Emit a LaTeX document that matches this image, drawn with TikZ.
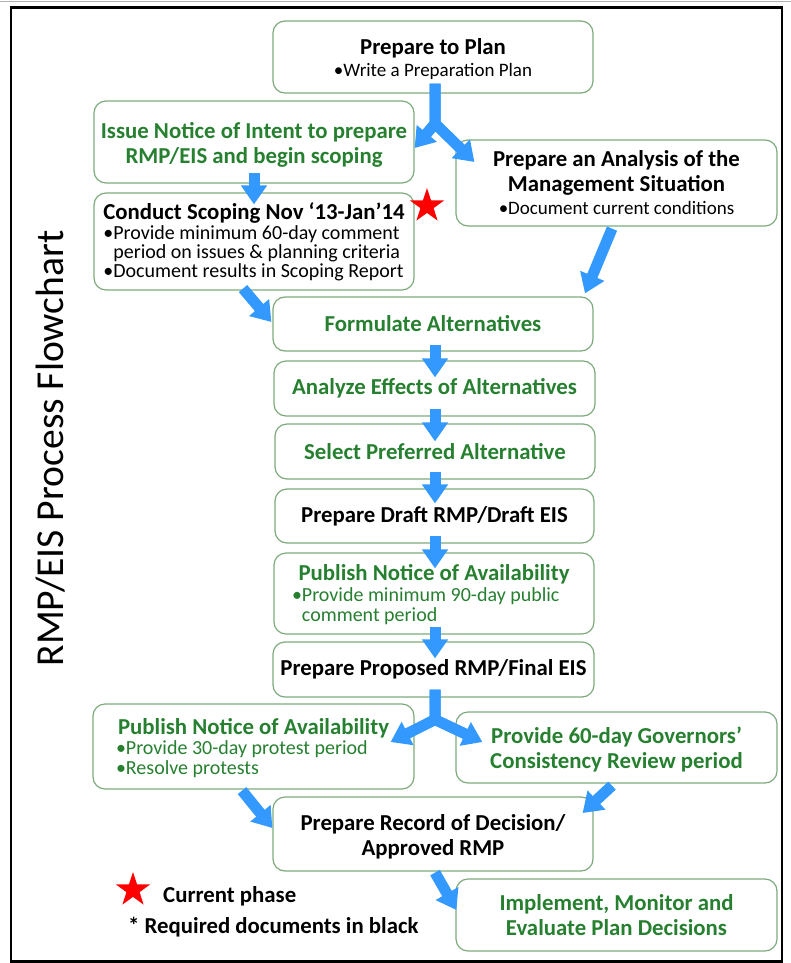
\documentclass[tikz,border=0pt]{standalone}
\usepackage{fontspec}
\setmainfont{Carlito}
\usetikzlibrary{arrows.meta,shapes.geometric,calc}
\definecolor{tgreen}{RGB}{38,128,48}
\definecolor{bgreen}{RGB}{125,170,125}
\definecolor{ablue}{RGB}{51,153,255}
\newcommand{\br}{\fontsize{20}{20}\selectfont\mdseries}
\newcommand{\brs}{\fontsize{19}{20}\selectfont\mdseries}
\newcommand{\topstrut}[1]{\rule{0pt}{#1}}
\begin{document}
\begin{tikzpicture}[x=1pt,y=-1pt,
  bt/.style={font=\fontsize{22.8}{25}\selectfont\bfseries},
  box/.style={bt, draw=bgreen, line width=1.2pt, rounded corners=12pt, inner sep=0pt, align=center, minimum width=320pt},
  gbox/.style={box, text=tgreen},
  barrow/.style={draw=ablue, line width=11pt, line join=miter, -{Triangle[width=25pt,length=19pt]}},
  redstar/.style={star, star points=5, star point ratio=2.6, fill=red, draw=none, minimum size=36pt, inner sep=0pt}
  ]
\useasboundingbox (0,0) rectangle (791,963);
% frame
\draw[gray!60, line width=0.8pt] (0,1) -- (791,1);
\draw[black, line width=2.6pt] (11,7.5) rectangle (782,961.5);
% title
\node[rotate=90, anchor=base, inner sep=0pt] (title) at (63,448.5) {\fontsize{39.6}{46}\selectfont RMP/EIS Process Flowchart};
% boxes
\node[box, minimum height=72pt] (prep) at (433,57) {\topstrut{20.5pt}Prepare to Plan\\[-3pt] \brs •Write a Preparation Plan};
\node[gbox, minimum height=82pt] (issue) at (254,142) {\topstrut{22.5pt}Issue Notice of Intent to prepare\\ RMP/EIS and begin scoping};
\node[box, minimum height=97pt, align=left] (scope) at (254,241.5) {Conduct Scoping Nov ‘13-Jan’14\\[-5pt] \br •Provide minimum 60-day comment\\[-6pt] \br \phantom{•}period on issues \& planning criteria\\[-6pt] \br •Document results in Scoping Report};
\node[box, minimum height=86pt, minimum width=321pt] (anal) at (616.5,183) {Prepare an Analysis of the\\ Management Situation\\[-2pt] \brs •Document current conditions};
\node[gbox, minimum height=54pt] (form) at (433,324) {Formulate Alternatives};
\node[gbox, minimum height=55pt, minimum width=321pt] (effe) at (434.5,388.5) {Analyze Effects of Alternatives};
\node[gbox, minimum height=55pt] (sel) at (435,451.5) {Select Preferred Alternative};
\node[box, minimum height=54pt, minimum width=319pt] (draft) at (434.5,516) {Prepare Draft RMP/Draft EIS};
\node[gbox, minimum height=81pt] (pub1) at (434,593.5) {\topstrut{19pt}Publish Notice of Availability\\[-4pt] \makebox[284pt][l]{\br •Provide minimum 90-day public}\\[-5pt] \makebox[284pt][l]{\br \phantom{•}comment period}};
\node[box, minimum height=55pt, minimum width=321pt] (prop) at (433.5,669.5) {Prepare Proposed RMP/Final EIS};
\node[gbox, minimum height=85pt, minimum width=321pt] (pub2) at (253.5,746.5) {\topstrut{20pt}Publish Notice of Availability\\[-5pt] \makebox[275pt][l]{\br •Provide 30-day protest period}\\[-5pt] \makebox[275pt][l]{\br •Resolve protests}};
\node[gbox, minimum height=71pt, minimum width=321pt] (gov) at (616.5,747.5) {\topstrut{21pt}Provide 60-day Governors’\\ Consistency Review period};
\node[box, minimum height=74pt] (rec) at (433,834) {\topstrut{21.5pt}Prepare Record of Decision/\\ Approved RMP};
\node[gbox, minimum height=72pt, minimum width=321pt] (impl) at (616.5,915) {Implement, Monitor and\\ Evaluate Plan Decisions};
% star and legend
\node[redstar] (cstar) at (427,206) {};
\node[redstar] (lstar) at (133,890) {};
\node[bt, anchor=base west, inner sep=0pt] (lcur) at (163,902) {Current phase};
\node[bt, anchor=base west, inner sep=0pt] (lreq) at (128,933) {* Required documents in black};
% arrows
\coordinate (j1) at ($(prep.south)+(2,30)$);
\draw[barrow] ($(prep.south)+(2,-10)$) -- (j1) -- ($(issue.east)+(0,6)$);
\draw[barrow] ($(prep.south)+(2,-10)$) -- (j1) -- ($(anal.west)+(19,-21)$);
\draw[barrow] ($(issue.south)+(0,-11)$) -- ($(scope.north)+(0,12)$);
\draw[barrow] ($(scope.south)+(-11,-2)$) -- ($(form.west)+(-1,-2)$);
\draw[barrow] ($(anal.south)+(-4.5,2)$) -- ($(form.north)+(152,-3)$);
\draw[barrow] ($(form.south)+(2,-7)$) -- ($(effe.north)+(0.5,17)$);
\draw[barrow] ($(effe.south)+(0.5,-8)$) -- ($(sel.north)+(0,18)$);
\draw[barrow] ($(sel.south)+(0,-8)$) -- ($(draft.north)+(0.5,15)$);
\draw[barrow] ($(draft.south)+(0.5,-8)$) -- ($(pub1.north)+(1,16)$);
\draw[barrow] ($(pub1.south)+(1,-8)$) -- ($(prop.north)+(1.5,17)$);
\coordinate (j2) at ($(prop.south)+(1.5,22)$);
\draw[barrow] ($(prop.south)+(1.5,-8)$) -- (j2) -- ($(pub2.east)+(-24,-4.5)$);
\draw[barrow] ($(prop.south)+(1.5,-8)$) -- (j2) -- ($(gov.west)+(27,-5.5)$);
\draw[barrow] ($(gov.south)+(-4.5,2)$) -- ($(rec.east)+(-11,-21)$);
\draw[barrow] ($(pub2.south)+(-11.5,1)$) -- ($(rec.west)+(0,-6)$);
\draw[barrow] ($(rec.south)+(2,1)$) -- ($(impl.west)+(1,-5)$);
\end{tikzpicture}
\end{document}
